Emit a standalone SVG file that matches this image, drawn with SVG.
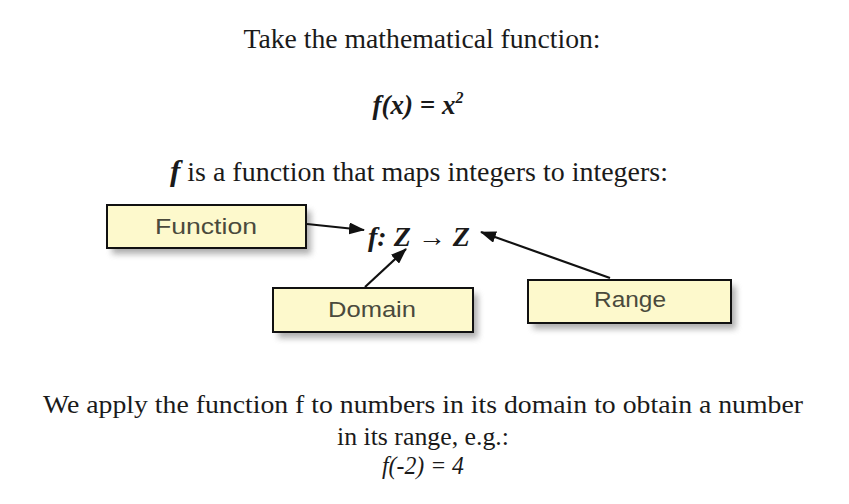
<svg xmlns="http://www.w3.org/2000/svg" width="849" height="504" viewBox="0 0 849 504">
<style>
.serif{font-family:"Liberation Serif","Times New Roman",serif;fill:#1a1a1a}
.box{fill:#fdf9cc;stroke:#111;stroke-width:2}
.lbl{font-family:"Liberation Sans",Arial,sans-serif;font-size:22px;fill:#4a4a3c;text-anchor:middle}
.conn{stroke:#111;stroke-width:2.2;fill:none;marker-end:url(#ah)}
</style>
<defs>
<marker id="ah" markerWidth="16" markerHeight="12" refX="15" refY="6" orient="auto" markerUnits="userSpaceOnUse"><path d="M0,0 L16,6 L0,12 Z" fill="#111"/></marker>
<filter id="sh" x="-20%" y="-30%" width="150%" height="180%"><feGaussianBlur stdDeviation="3"/></filter>
</defs>
<rect width="849" height="504" fill="#fff"/>
<text class="serif" x="422" y="48" font-size="27" text-anchor="middle" textLength="357" lengthAdjust="spacingAndGlyphs">Take the mathematical function:</text>
<text class="serif" x="418" y="114" font-size="27" text-anchor="middle" font-weight="bold" font-style="italic">f(x) = x<tspan font-size="16" dy="-11">2</tspan></text>
<text class="serif" x="419" y="181" font-size="27" text-anchor="middle" textLength="498" lengthAdjust="spacingAndGlyphs"><tspan font-weight="bold" font-style="italic" font-size="30">f</tspan> is a function that maps integers to integers:</text>
<text class="serif" x="419" y="246" font-size="27" text-anchor="middle" font-style="italic" font-weight="bold" textLength="102" lengthAdjust="spacingAndGlyphs">f: Z <tspan font-style="normal" font-weight="normal">→</tspan> Z</text>
<g id="function">
<rect x="112" y="211" width="199" height="43" fill="#777" opacity="0.6" filter="url(#sh)"/>
<rect class="box" x="107" y="205" width="199" height="43"/>
<text class="lbl" x="206" y="234" textLength="102" lengthAdjust="spacingAndGlyphs">Function</text>
</g>
<g id="domain">
<rect x="278" y="294" width="200" height="44" fill="#777" opacity="0.6" filter="url(#sh)"/>
<rect class="box" x="273" y="288" width="200" height="44"/>
<text class="lbl" x="372" y="317" textLength="88" lengthAdjust="spacingAndGlyphs">Domain</text>
</g>
<g id="range">
<rect x="533" y="286" width="203" height="43" fill="#777" opacity="0.6" filter="url(#sh)"/>
<rect class="box" x="528" y="280" width="203" height="43"/>
<text class="lbl" x="630" y="307" textLength="72" lengthAdjust="spacingAndGlyphs">Range</text>
</g>
<g id="connectors">
<line class="conn" x1="307" y1="224" x2="364" y2="230"/>
<line class="conn" x1="365" y1="287" x2="406" y2="249"/>
<line class="conn" x1="610" y1="278" x2="481" y2="232"/>
</g>
<text class="serif" x="423" y="413" font-size="26" text-anchor="middle" textLength="760" lengthAdjust="spacingAndGlyphs">We apply the function f to numbers in its domain to obtain a number</text>
<text class="serif" x="423" y="445" font-size="26" text-anchor="middle" textLength="172" lengthAdjust="spacingAndGlyphs">in its range, e.g.:</text>
<text class="serif" x="423" y="474" font-size="26" text-anchor="middle" font-style="italic" textLength="82" lengthAdjust="spacingAndGlyphs">f(-2) = 4</text>
</svg>
